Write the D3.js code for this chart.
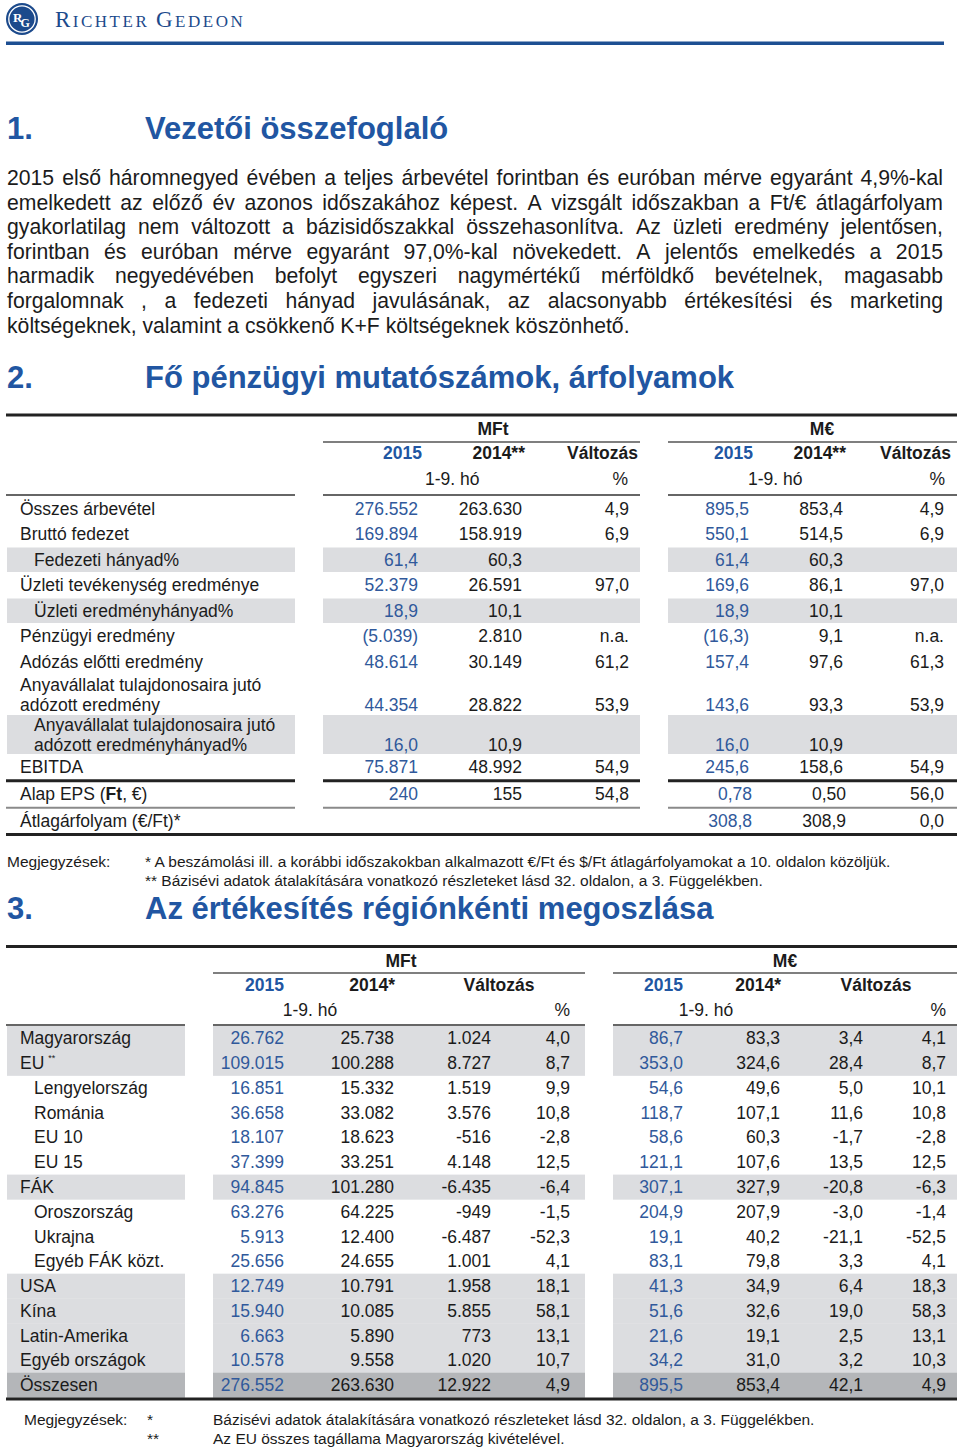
<!DOCTYPE html>
<html><head><meta charset="utf-8">
<script src="https://cdn.jsdelivr.net/npm/d3@7"></script>
<style>
html,body{margin:0;padding:0;background:#fff;}
svg{display:block;font-family:"Liberation Sans",Arial,Helvetica,sans-serif;}
</style></head>
<body><svg id="c" width="960" height="1449"></svg>
<script>
// ---------------- DATA ----------------
const brandName = ["R","ICHTER","G","EDEON"];
const sectionNums = ["1.","2.","3."];
const sectionTitles = ["Vezetői összefoglaló","Fő pénzügyi mutatószámok, árfolyamok","Az értékesítés régiónkénti megoszlása"];
const paragraphLines = [
  "2015 első háromnegyed évében a teljes árbevétel forintban és euróban mérve egyaránt 4,9%-kal",
  "emelkedett az előző év azonos időszakához képest. A vizsgált időszakban a Ft/€ átlagárfolyam",
  "gyakorlatilag nem változott a bázisidőszakkal összehasonlítva. Az üzleti eredmény jelentősen,",
  "forintban és euróban mérve egyaránt 97,0%-kal növekedett. A jelentős emelkedés a 2015",
  "harmadik negyedévében befolyt egyszeri nagymértékű mérföldkő bevételnek, magasabb",
  "forgalomnak , a fedezeti hányad javulásának, az alacsonyabb értékesítési és marketing",
  "költségeknek, valamint a csökkenő K+F költségeknek köszönhető."
];

// Table 1 (key financials)
const t1Units = ["MFt","M€"];
const t1Headers = ["2015","2014**","Változás","2015","2014**","Változás"];
const t1Period = "1-9. hó";
const kpiLabels = ["Összes árbevétel","Bruttó fedezet","Fedezeti hányad%","Üzleti tevékenység eredménye","Üzleti eredményhányad%","Pénzügyi eredmény","Adózás előtti eredmény","Anyavállalat tulajdonosaira jutó\nadózott eredmény","Anyavállalat tulajdonosaira jutó\nadózott eredményhányad%","EBITDA","Alap EPS ({Ft}, €)","Átlagárfolyam (€/Ft)*"];
const kpiSub = [0,0,1,0,1,0,0,0,1,0,0,0];
const kpiGroup = [0,0,0,0,0,0,0,0,0,0,1,2];
const kpiMft2015 = ["276.552","169.894","61,4","52.379","18,9","(5.039)","48.614","44.354","16,0","75.871","240",""];
const kpiMft2014 = ["263.630","158.919","60,3","26.591","10,1","2.810","30.149","28.822","10,9","48.992","155",""];
const kpiMftChg  = ["4,9","6,9","","97,0","","n.a.","61,2","53,9","","54,9","54,8",""];
const kpiEur2015 = ["895,5","550,1","61,4","169,6","18,9","(16,3)","157,4","143,6","16,0","245,6","0,78","308,8"];
const kpiEur2014 = ["853,4","514,5","60,3","86,1","10,1","9,1","97,6","93,3","10,9","158,6","0,50","308,9"];
const kpiEurChg  = ["4,9","6,9","","97,0","","n.a.","61,3","53,9","","54,9","56,0","0,0"];
const notes1 = ["* A beszámolási ill. a korábbi időszakokban alkalmazott €/Ft és $/Ft átlagárfolyamokat a 10. oldalon közöljük.",
                "** Bázisévi adatok átalakítására vonatkozó részleteket lásd 32. oldalon, a 3. Függelékben."];
const notesTitle = "Megjegyzések:";

// Table 2 (regional sales)
const t2Headers = ["2015","2014*","Változás","2015","2014*","Változás"];
const regions = ["Magyarország","EU","Lengyelország","Románia","EU 10","EU 15","FÁK","Oroszország","Ukrajna","Egyéb FÁK közt.","USA","Kína","Latin-Amerika","Egyéb országok","Összesen"];
const regionNote = ["","**","","","","","","","","","","","","",""];
const regionSub = [0,0,1,1,1,1,0,1,1,1,0,0,0,0,0];
const regionShade = [1,1,0,0,0,0,1,0,0,0,1,1,1,1,2];
const mft2015 = ["26.762","109.015","16.851","36.658","18.107","37.399","94.845","63.276","5.913","25.656","12.749","15.940","6.663","10.578","276.552"];
const mft2014 = ["25.738","100.288","15.332","33.082","18.623","33.251","101.280","64.225","12.400","24.655","10.791","10.085","5.890","9.558","263.630"];
const mftChg  = ["1.024","8.727","1.519","3.576","-516","4.148","-6.435","-949","-6.487","1.001","1.958","5.855","773","1.020","12.922"];
const mftPct  = ["4,0","8,7","9,9","10,8","-2,8","12,5","-6,4","-1,5","-52,3","4,1","18,1","58,1","13,1","10,7","4,9"];
const eur2015 = ["86,7","353,0","54,6","118,7","58,6","121,1","307,1","204,9","19,1","83,1","41,3","51,6","21,6","34,2","895,5"];
const eur2014 = ["83,3","324,6","49,6","107,1","60,3","107,6","327,9","207,9","40,2","79,8","34,9","32,6","19,1","31,0","853,4"];
const eurChg  = ["3,4","28,4","5,0","11,6","-1,7","13,5","-20,8","-3,0","-21,1","3,3","6,4","19,0","2,5","3,2","42,1"];
const eurPct  = ["4,1","8,7","10,1","10,8","-2,8","12,5","-6,3","-1,4","-52,5","4,1","18,3","58,3","13,1","10,3","4,9"];
const notes2Marks = ["*","**"];
const notes2 = ["Bázisévi adatok átalakítására vonatkozó részleteket lásd 32. oldalon, a 3. Függelékben.",
                "Az EU összes tagállama Magyarország kivételével."];

// ---------------- STYLE ----------------
const INK = "#1b1b1b";
const BLUE_T = "#2156a2";
const BLUE_N = "#30599b";
const LOGO = "#1c4a8c";
const GRAY1 = "#dcdde0";
const GRAY2 = "#b4b6b9";
const FS = 17.5;
const NOTE_FS = 15.5;

const svg = d3.select("#c");
svg.append("rect").attr("width",960).attr("height",1449).attr("fill","#fff");

function txt(p, x, y, s, o = {}) {
  const t = p.append("text").attr("x", x).attr("y", y).text(s)
    .attr("font-size", o.size || FS).attr("fill", o.fill || INK)
    .attr("text-anchor", o.anchor || "start");
  if (o.bold) t.attr("font-weight", "bold");
  return t;
}
function hline(p, x1, x2, y, w, c) {
  p.append("line").attr("x1", x1).attr("x2", x2).attr("y1", y).attr("y2", y)
    .attr("stroke", c).attr("stroke-width", w);
}

// ---------------- HEADER ----------------
const hdr = svg.append("g");
hdr.append("circle").attr("cx",22).attr("cy",19).attr("r",16).attr("fill",LOGO);
hdr.append("circle").attr("cx",22).attr("cy",19).attr("r",13.2).attr("fill","none").attr("stroke","#fff").attr("stroke-width",1.3);
const mono = hdr.append("text").attr("x",13).attr("y",22).attr("fill","#fff")
  .attr("font-family","'Liberation Serif',serif").attr("font-weight","bold");
mono.append("tspan").attr("font-size",13).text("R");
mono.append("tspan").attr("font-size",12).attr("dx",-2).attr("dy",5).text("G");
const brand = hdr.append("text").attr("x",55).attr("y",27).attr("fill",LOGO)
  .attr("font-family","'Liberation Serif','Times New Roman',serif").attr("letter-spacing",2.5);
brand.append("tspan").attr("font-size",23).text(brandName[0]);
brand.append("tspan").attr("font-size",17).text(brandName[1] + " ");
brand.append("tspan").attr("font-size",23).text(brandName[2]);
brand.append("tspan").attr("font-size",17).text(brandName[3]);
hdr.append("rect").attr("x",6).attr("y",41.5).attr("width",938).attr("height",3.5).attr("fill","#1d4f92");

// ---------------- SECTION HEADINGS ----------------
const headY = d3.scaleOrdinal().domain(sectionNums).range([139, 388, 919]);
sectionNums.forEach((n, i) => {
  txt(svg, 7, headY(n), n, {size: 31, bold: true, fill: BLUE_T});
  txt(svg, 145, headY(n), sectionTitles[i], {size: 31, bold: true, fill: BLUE_T});
});

// ---------------- PARAGRAPH (justified) ----------------
const para = svg.append("g");
const PFS = 21.2;
const paraY = d3.scaleLinear().domain([0, 1]).range([185, 209.6]);
paragraphLines.forEach((line, i) => {
  const y = paraY(i);
  const words = line.split(" ");
  const last = i === paragraphLines.length - 1;
  const nodes = words.map(w => txt(para, 0, y, w, {size: PFS}));
  const widths = nodes.map(n => n.node().getComputedTextLength());
  const gap = last ? PFS * 0.278 : (943 - 7 - d3.sum(widths)) / (words.length - 1);
  let x = 7;
  nodes.forEach((n, k) => { n.attr("x", x); x += widths[k] + gap; });
});

// ---------------- TABLE 1 ----------------
const t1 = svg.append("g");
const t1Blocks = [[7,295],[323,640],[668,957]];
const t1Cols = ["mft2015","mft2014","mftChg","eur2015","eur2014","eurChg"];
const t1Vals = {mft2015:kpiMft2015, mft2014:kpiMft2014, mftChg:kpiMftChg, eur2015:kpiEur2015, eur2014:kpiEur2014, eurChg:kpiEurChg};
const t1X = d3.scaleOrdinal().domain(t1Cols).range([418,522,629,749,843,944]);
const t1HX = d3.scaleOrdinal().domain(t1Cols).range([422,525,638,753,846,951]);
const t1UnitX = d3.scaleOrdinal().domain(t1Units).range([493,822]);

// row geometry
const t1Heights = kpiLabels.map((l, i) => (l.includes("\n") ? 40 : 25.5) + (i > 0 && kpiGroup[i] !== kpiGroup[i-1] ? 1.5 : 0));
const t1Ends = d3.cumsum(t1Heights).map(v => v + 496);
const t1Rows = kpiLabels.map((l, i) => {
  const gapTop = (i > 0 && kpiGroup[i] !== kpiGroup[i-1]) ? 1.5 : 0;
  const bottom = t1Ends[i];
  const top = bottom - t1Heights[i] + gapTop;
  return {top, bottom, c: (top + bottom) / 2, two: l.includes("\n")};
});

// shading
kpiLabels.forEach((l, i) => {
  if (!kpiSub[i]) return;
  const r = t1Rows[i];
  t1Blocks.forEach(b => t1.append("rect").attr("x", b[0]).attr("y", r.top + 0.5)
    .attr("width", b[1] - b[0]).attr("height", r.bottom - r.top - 1).attr("fill", GRAY1));
});

// rules
hline(t1, 6, 957, 415, 3, "#222");
t1Units.forEach((u, k) => hline(t1, t1Blocks[k+1][0], t1Blocks[k+1][1], 442, 1.5, "#555"));
t1Blocks.forEach(b => hline(t1, b[0] - (b[0] === 7 ? 1 : 0), b[1], 495, 1.5, "#333"));
kpiLabels.forEach((l, i) => {
  if (i > 0 && kpiGroup[i] !== kpiGroup[i-1]) {
    const y = t1Rows[i].top - 0.75;
    const thick = kpiGroup[i] === 1;
    t1Blocks.forEach(b => hline(t1, b[0] - (b[0] === 7 ? 1 : 0), b[1], y, thick ? 3 : 2, thick ? "#222" : "#8a8a8a"));
  }
});
hline(t1, 6, 957, t1Rows[t1Rows.length-1].bottom + 0.5, 3, "#222");

// headers
t1Units.forEach(u => txt(t1, t1UnitX(u), 435, u, {bold: true, anchor: "middle"}));
t1Cols.forEach((c, k) => txt(t1, t1HX(c), 459, t1Headers[k], {bold: true, anchor: "end", fill: k % 3 === 0 ? BLUE_T : INK}));
txt(t1, 425, 485, t1Period);
txt(t1, 748, 485, t1Period);
txt(t1, 628, 485, "%", {anchor: "end"});
txt(t1, 945, 485, "%", {anchor: "end"});

// labels and values
kpiLabels.forEach((l, i) => {
  const r = t1Rows[i];
  const x = kpiSub[i] ? 34 : 20;
  const lines = l.split("\n");
  lines.forEach((ln, j) => {
    const y = r.two ? r.c - 10 + j * 20 + 6 : r.c + 6;
    const t = t1.append("text").attr("x", x).attr("y", y).attr("font-size", FS).attr("fill", INK);
    ln.split(/(\{[^}]*\})/).filter(s => s.length).forEach(part => {
      if (part.startsWith("{")) t.append("tspan").attr("font-weight","bold").text(part.slice(1,-1));
      else t.append("tspan").text(part);
    });
  });
  const vy = r.two ? r.c + 16 : r.c + 6;
  t1Cols.forEach((c, k) => {
    const v = t1Vals[c][i];
    if (v) txt(t1, t1X(c) + (i >= 10 && k >= 3 && k < 5 ? 3 : 0), vy, v, {anchor: "end", fill: k % 3 === 0 ? BLUE_N : INK});
  });
});

// notes 1
const n1 = svg.append("g");
txt(n1, 7, 867, notesTitle, {size: NOTE_FS});
notes1.forEach((s, i) => txt(n1, 145, 867 + i * 19, s, {size: NOTE_FS}));

// ---------------- TABLE 2 ----------------
const t2 = svg.append("g");
const t2Blocks = [[7,185],[213,585],[613,957]];
const t2Cols = ["mft2015","mft2014","mftChg","mftPct","eur2015","eur2014","eurChg","eurPct"];
const t2Vals = {mft2015, mft2014, mftChg, mftPct, eur2015, eur2014, eurChg, eurPct};
const t2X = d3.scaleOrdinal().domain(t2Cols).range([284,394,491,570,683,780,863,946]);
const t2Y = d3.scaleBand().domain(d3.range(regions.length)).range([1026, 1397.5]);
const t2UnitX = d3.scaleOrdinal().domain(t1Units).range([401,785]);

// shading
regions.forEach((r, i) => {
  if (!regionShade[i]) return;
  t2Blocks.forEach(b => t2.append("rect").attr("x", b[0]).attr("y", t2Y(i))
    .attr("width", b[1] - b[0]).attr("height", t2Y.bandwidth() + 0.3)
    .attr("fill", regionShade[i] === 2 ? GRAY2 : GRAY1));
});

// rules
hline(t2, 6, 957, 946.5, 3, "#222");
t1Units.forEach((u, k) => hline(t2, t2Blocks[k+1][0], t2Blocks[k+1][1], 973, 1.5, "#555"));
t2Blocks.forEach(b => hline(t2, b[0] - (b[0] === 7 ? 1 : 0), b[1], 1025, 1.5, "#333"));
hline(t2, 6, 957, 1399, 3, "#222");

// headers
t1Units.forEach(u => txt(t2, t2UnitX(u), 967, u, {bold: true, anchor: "middle"}));
[["mft2015",0],["mft2014",1],["eur2015",3],["eur2014",4]].forEach(([c, k]) =>
  txt(t2, t2X(c) + (k % 3 === 1 ? 1 : 0), 991, t2Headers[k], {bold: true, anchor: "end", fill: k % 3 === 0 ? BLUE_T : INK}));
txt(t2, 499, 991, t2Headers[2], {bold: true, anchor: "middle"});
txt(t2, 876, 991, t2Headers[5], {bold: true, anchor: "middle"});
txt(t2, 310, 1016, t1Period, {anchor: "middle"});
txt(t2, 706, 1016, t1Period, {anchor: "middle"});
txt(t2, 570, 1016, "%", {anchor: "end"});
txt(t2, 946, 1016, "%", {anchor: "end"});

regions.forEach((r, i) => {
  const y = t2Y(i) + t2Y.bandwidth() / 2 + 6;
  const t = txt(t2, regionSub[i] ? 34 : 20, y, r);
  if (regionNote[i]) t.append("tspan").attr("font-size", 9).attr("dx", 4).attr("dy", -8).text(regionNote[i]);
  t2Cols.forEach((c, k) => txt(t2, t2X(c), y, t2Vals[c][i], {anchor: "end", fill: k % 4 === 0 ? BLUE_N : INK}));
});

// notes 2
const n2 = svg.append("g");
txt(n2, 24, 1425, notesTitle, {size: NOTE_FS});
notes2.forEach((s, i) => {
  txt(n2, 147, 1425 + i * 19, notes2Marks[i], {size: NOTE_FS});
  txt(n2, 213, 1425 + i * 19, s, {size: NOTE_FS});
});
</script></body></html>
